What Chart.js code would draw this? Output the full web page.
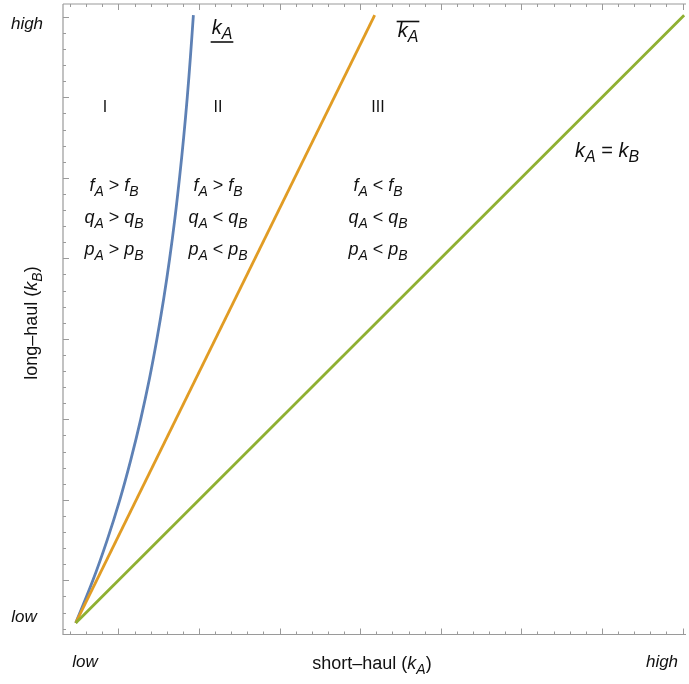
<!DOCTYPE html>
<html lang="en">
  <head>
    <meta charset="utf-8" />
    <title>short-haul vs long-haul</title>
    <script src="https://cdn.jsdelivr.net/npm/chart.js"></script>
    <style>
      body { margin: 0; background: #fff; }
      #wrap { width: 689px; height: 684px; }
    </style>
  </head>
  <body>
    <div id="wrap"><canvas id="regions" width="689" height="684"></canvas></div>

    <script>
      // curve data (axis units)
      var lowerX = [-0.53, -0.317, -0.140, 0.017, 0.154, 0.276, 0.384, 0.478, 0.562, 0.636, 0.701, 0.758, 0.809, 0.854, 0.893, 0.930];
      var lowerY = [-0.53, 0.0, 0.5, 1.0, 1.5, 2.0, 2.5, 3.0, 3.5, 4.0, 4.5, 5.0, 5.5, 6.0, 6.5, 7.02];
      var upperX = [-0.53, 3.18];
      var upperY = [-0.53, 7.02];
      var equalX = [-0.53, 7.02];
      var equalY = [-0.53, 7.02];

      // axis ticks and labels
      var majorTicks = [0, 1, 2, 3, 4, 5, 6, 7];
      var axisLabels = ["low", "high"];

      var FONT = '"Liberation Sans", Arial, sans-serif';
      var AXIS_COLOR = "#9a9a9a";

      function pts(xs, ys) {
        return xs.map(function (x, i) { return { x: x, y: ys[i] }; });
      }

      function fontFor(style, size) {
        if (style === "s") return "italic " + Math.round(size * 0.78) + "px " + FONT;
        if (style === "i") return "italic " + size + "px " + FONT;
        return size + "px " + FONT;
      }

      // draws segments like [["f","i"],["A","s"],[" > ","n"]] centred on cx,cy
      function richText(ctx, segs, cx, cy, size) {
        var w = 0;
        segs.forEach(function (s) {
          ctx.font = fontFor(s[1], size);
          w += ctx.measureText(s[0]).width;
        });
        var x = cx - w / 2;
        ctx.textAlign = "left";
        ctx.textBaseline = "middle";
        segs.forEach(function (s) {
          ctx.font = fontFor(s[1], size);
          ctx.fillText(s[0], x, cy + (s[1] === "s" ? size * 0.32 : 0));
          x += ctx.measureText(s[0]).width;
        });
        return { left: cx - w / 2, right: cx + w / 2 };
      }

      function rel(a, op, b) {
        return [[a, "i"], ["A", "s"], [" " + op + " ", "n"], [b, "i"], ["B", "s"]];
      }

      var frame = {
        id: "frame",
        afterDatasetsDraw: function (chart) {
          var ctx = chart.ctx;
          var xs = chart.scales.x, ys = chart.scales.y;
          var a = chart.chartArea;
          ctx.save();

          // frame lines: left, bottom, top
          ctx.strokeStyle = AXIS_COLOR;
          ctx.lineWidth = 1.2;
          ctx.beginPath();
          ctx.moveTo(a.left, a.top);
          ctx.lineTo(a.left, a.bottom);
          ctx.lineTo(a.right, a.bottom);
          ctx.moveTo(a.left, a.top);
          ctx.lineTo(a.right, a.top);
          ctx.stroke();

          // ticks, pointing inwards; long ones on majorTicks
          ctx.lineWidth = 1;
          ctx.beginPath();
          for (var k = -3; k <= 35; k++) {
            var v = k * 0.2;
            var major = majorTicks.indexOf(v) >= 0 || k % 5 === 0;
            var len = major ? 6 : 3;
            if (v >= xs.min && v <= xs.max) {
              var px = Math.round(xs.getPixelForValue(v)) + 0.5;
              ctx.moveTo(px, a.bottom);
              ctx.lineTo(px, a.bottom - len);
              ctx.moveTo(px, a.top);
              ctx.lineTo(px, a.top + len);
            }
            if (v >= ys.min && v <= ys.max) {
              var py = Math.round(ys.getPixelForValue(v)) + 0.5;
              ctx.moveTo(a.left, py);
              ctx.lineTo(a.left + len, py);
            }
          }
          ctx.stroke();

          ctx.fillStyle = "#111";
          // axis end labels
          richText(ctx, [[axisLabels[1], "i"]], 27, 24, 17);
          richText(ctx, [[axisLabels[0], "i"]], 24, 617, 17);
          richText(ctx, [[axisLabels[0], "i"]], 85, 662, 17);
          richText(ctx, [[axisLabels[1], "i"]], 662, 662, 17);

          // axis titles
          richText(ctx, [["short\u2013haul (", "n"], ["k", "i"], ["A", "s"], [")", "n"]], 372, 664, 18);
          ctx.save();
          ctx.translate(32, 323);
          ctx.rotate(-Math.PI / 2);
          richText(ctx, [["long\u2013haul (", "n"], ["k", "i"], ["B", "s"], [")", "n"]], 0, 0, 18);
          ctx.restore();

          // region numerals
          richText(ctx, [["I", "n"]], 105, 108, 16);
          richText(ctx, [["II", "n"]], 218, 108, 16);
          richText(ctx, [["III", "n"]], 378, 108, 16);

          // curve labels
          var u = richText(ctx, [["k", "i"], ["A", "s"]], 222, 28, 20);
          ctx.strokeStyle = "#111";
          ctx.lineWidth = 1.6;
          ctx.beginPath();
          ctx.moveTo(u.left - 1, 42);
          ctx.lineTo(u.right + 1, 42);
          ctx.stroke();
          var o = richText(ctx, [["k", "i"], ["A", "s"]], 408, 31, 20);
          ctx.beginPath();
          ctx.moveTo(o.left - 1, 21.5);
          ctx.lineTo(o.right + 1, 21.5);
          ctx.stroke();
          richText(ctx, [["k", "i"], ["A", "s"], [" = ", "n"], ["k", "i"], ["B", "s"]], 607, 151, 20);

          // region conditions
          var cols = [[114, ">", ">", ">"], [218, ">", "<", "<"], [378, "<", "<", "<"]];
          cols.forEach(function (c) {
            richText(ctx, rel("f", c[1], "f"), c[0], 186, 18);
            richText(ctx, rel("q", c[2], "q"), c[0], 218, 18);
            richText(ctx, rel("p", c[3], "p"), c[0], 250, 18);
          });

          ctx.restore();
        },
      };

      var ctx = document.getElementById("regions").getContext("2d");
      var chart = new Chart(ctx, {
        type: "scatter",
        data: {
          datasets: [
            { data: pts(equalX, equalY), borderColor: "#8fb032" },
            { data: pts(upperX, upperY), borderColor: "#e19c24" },
            { data: pts(lowerX, lowerY), borderColor: "#5e81b5", tension: 0.4 },
          ],
        },
        options: {
          responsive: false,
          animation: false,
          layout: { padding: { left: 63, top: 4, right: 3, bottom: 49.5 } },
          elements: {
            point: { radius: 0 },
            line: { borderWidth: 2.8, fill: false },
          },
          datasets: { scatter: { showLine: true } },
          scales: {
            x: { type: "linear", display: false, min: -0.688, max: 7.043 },
            y: { type: "linear", display: false, min: -0.673, max: 7.159 },
          },
          plugins: { legend: { display: false }, tooltip: { enabled: false } },
        },
        plugins: [frame],
      });
    </script>
  </body>
</html>
